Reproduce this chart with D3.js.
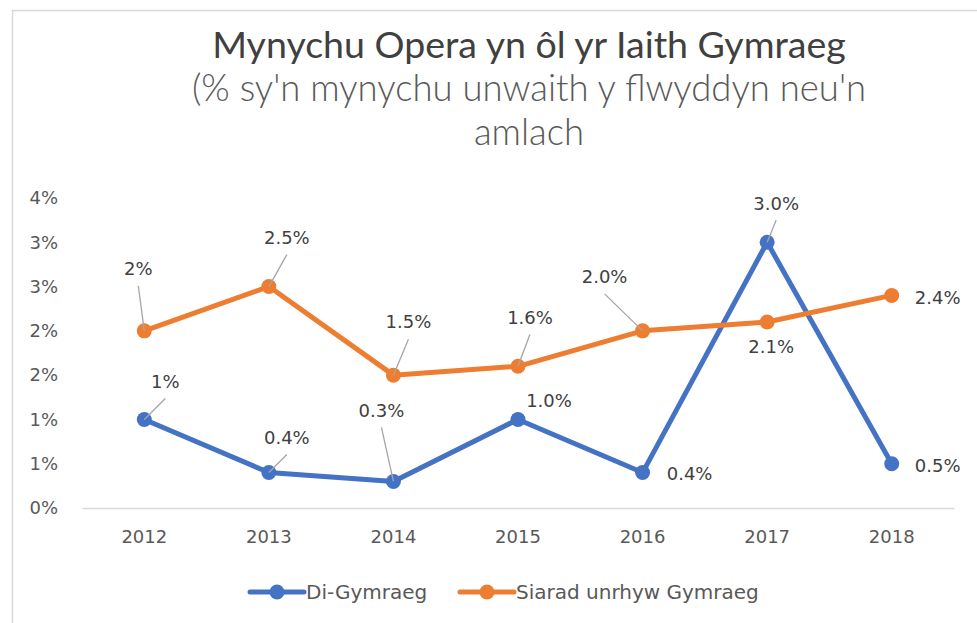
<!DOCTYPE html>
<html>
<head>
<meta charset="utf-8">
<script src="https://cdn.jsdelivr.net/npm/d3@7"></script>
<style>
  body { margin: 0; background: #fff; }
  svg { display: block; }
</style>
</head>
<body>
<div id="Graph"></div>
<script>
// data (percent)
const years = ["2012", "2013", "2014", "2015", "2016", "2017", "2018"];
const diGymraeg = [1.0, 0.4, 0.3, 1.0, 0.4, 3.0, 0.5];
const siarad = [2.0, 2.5, 1.5, 1.6, 2.0, 2.1, 2.4];
const diLabels = ["1%", "0.4%", "0.3%", "1.0%", "0.4%", "3.0%", "0.5%"];
const siaradLabels = ["2%", "2.5%", "1.5%", "1.6%", "2.0%", "2.1%", "2.4%"];
const seriesNames = ["Di-Gymraeg", "Siarad unrhyw Gymraeg"];
const yTicks = [0, 0.5, 1, 1.5, 2, 2.5, 3, 3.5];
const yTickLabels = ["0%", "1%", "1%", "2%", "2%", "3%", "3%", "4%"];
const titleLines = ["Mynychu Opera yn ôl yr Iaith Gymraeg",
                    "(% sy'n mynychu unwaith y flwyddyn neu'n",
                    "amlach"];

// label placement (offset of label centre from the point, and whether a leader line is drawn)
const diOffsets = [[21, -38, true], [18, -35, true], [-12, -71, true], [31, -19, false], [47, 1, false], [9, -39, true], [46, 2, false]];
const siaradOffsets = [[-6, -62, true], [18, -49, true], [15, -53, true], [12, -49, true], [-38, -54, true], [4, 25, false], [46, 2, false]];

const width = 977, height = 623;
const colors = ["#4472C4", "#ED7D31"];
const font = "'DejaVu Sans', sans-serif";

const svg = d3.select("#Graph").append("svg")
  .attr("width", width)
  .attr("height", height);

// chart frame
svg.append("rect")
  .attr("x", 12.5).attr("y", 10.5)
  .attr("width", 1100).attr("height", 800)
  .attr("fill", "#fff")
  .attr("stroke", "#d9d9d9")
  .attr("stroke-width", 1.5);

// title
const title = svg.append("text")
  .attr("text-anchor", "middle")
  .attr("font-family", "Lato, sans-serif");
title.append("tspan").attr("x", 529).attr("y", 58)
  .attr("font-size", 37.5).attr("fill", "#404040")
  .text(titleLines[0]);
title.append("tspan").attr("x", 529).attr("y", 101)
  .attr("font-size", 36.5).attr("font-weight", 300).attr("fill", "#595959")
  .text(titleLines[1]);
title.append("tspan").attr("x", 529).attr("y", 145)
  .attr("font-size", 36.5).attr("font-weight", 300).attr("fill", "#595959")
  .text(titleLines[2]);

const x = d3.scaleBand()
  .domain(years)
  .range([82, 954]);

const y = d3.scaleLinear()
  .domain([0, 3.5])
  .range([508, 198]);

// y axis labels
svg.append("g")
  .attr("transform", "translate(64,0)")
  .call(d3.axisLeft(y).tickValues(yTicks).tickSize(0).tickPadding(6)
    .tickFormat((d, i) => yTickLabels[i]))
  .call(g => g.select(".domain").remove())
  .selectAll("text")
  .attr("font-family", font)
  .attr("font-size", 18)
  .attr("fill", "#595959");

// x axis
svg.append("g")
  .attr("transform", "translate(0,508)")
  .call(d3.axisBottom(x).tickSize(0).tickPadding(22))
  .call(g => g.select(".domain").attr("stroke", "#d9d9d9").attr("stroke-width", 1.5))
  .selectAll("text")
  .attr("font-family", font)
  .attr("font-size", 18)
  .attr("fill", "#595959");

const cx = d => x(d) + x.bandwidth() / 2;

const series = [
  { values: diGymraeg, labels: diLabels, offsets: diOffsets, color: colors[0] },
  { values: siarad, labels: siaradLabels, offsets: siaradOffsets, color: colors[1] }
];

const line = d3.line()
  .x((d, i) => cx(years[i]))
  .y(d => y(d));

series.forEach(s => {
  svg.append("path")
    .datum(s.values)
    .attr("fill", "none")
    .attr("stroke", s.color)
    .attr("stroke-width", 5)
    .attr("stroke-linejoin", "round")
    .attr("d", line);

  svg.append("g").selectAll("circle")
    .data(s.values)
    .enter().append("circle")
    .attr("cx", (d, i) => cx(years[i]))
    .attr("cy", d => y(d))
    .attr("r", 7.5)
    .attr("fill", s.color);
});

// data labels with leader lines
series.forEach(s => {
  const g = svg.append("g");
  s.values.forEach((v, i) => {
    const px = cx(years[i]), py = y(v);
    const [dx, dy, leader] = s.offsets[i];
    const lx = px + dx, ly = py + dy;
    if (leader) {
      const endY = dy < 0 ? ly + 17 : ly - 17;
      g.append("line")
        .attr("x1", px).attr("y1", py)
        .attr("x2", lx).attr("y2", endY)
        .attr("stroke", "#a6a6a6")
        .attr("stroke-width", 1.3);
    }
    g.append("text")
      .attr("x", lx).attr("y", ly)
      .attr("dy", "0.35em")
      .attr("text-anchor", "middle")
      .attr("font-family", font)
      .attr("font-size", 18)
      .attr("fill", "#404040")
      .text(s.labels[i]);
  });
});

// legend
const legend = svg.append("g").attr("transform", "translate(0,592)");
const legendX = [250, 460];
seriesNames.forEach((name, i) => {
  const lg = legend.append("g").attr("transform", `translate(${legendX[i]},0)`);
  lg.append("line")
    .attr("x1", 0).attr("x2", 54)
    .attr("stroke", colors[i]).attr("stroke-width", 5)
    .attr("stroke-linecap", "round");
  lg.append("circle")
    .attr("cx", 27).attr("r", 7.5)
    .attr("fill", colors[i]);
  lg.append("text")
    .attr("x", 56).attr("dy", "0.35em")
    .attr("font-family", font)
    .attr("font-size", 20)
    .attr("fill", "#595959")
    .text(name);
});
</script>
</body>
</html>
